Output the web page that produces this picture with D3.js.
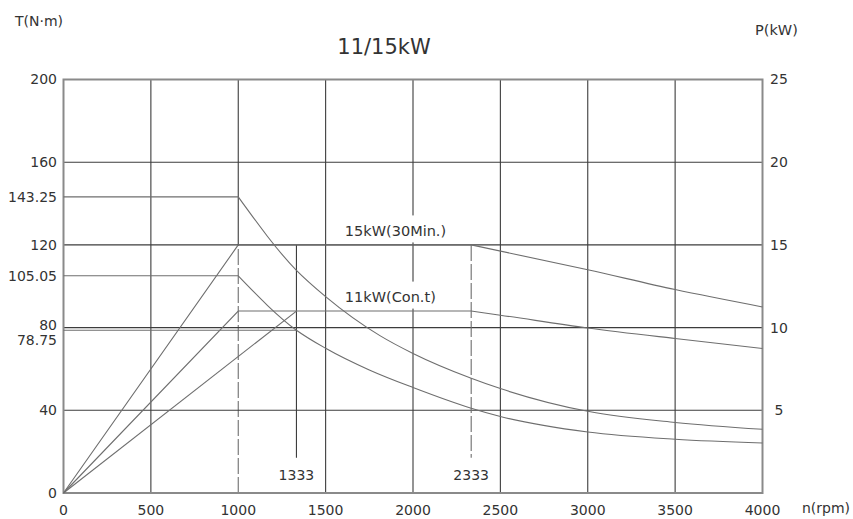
<!DOCTYPE html>
<html>
<head>
<meta charset="utf-8">
<script src="https://cdn.jsdelivr.net/npm/d3@7"></script>
<style>
  body { margin: 0; background: #fff; }
  text { font-family: "DejaVu Sans", sans-serif; fill: #333; }
</style>
</head>
<body>
<svg id="chart" width="853" height="519"></svg>
<script>
// axis ticks
var speedTicks = [0, 500, 1000, 1500, 2000, 2500, 3000, 3500, 4000];
var torqueGrid = [0, 40, 80, 120, 160, 200];
var torqueLabels = [0, 40, 78.75, 80, 105.05, 120, 143.25, 160, 200];
var powerTicks = [5, 10, 15, 20, 25];

// torque curves [rpm, N·m]
var torque15 = [[0, 143.25], [1000, 143.25], [1333, 107.7], [1500, 95], [1813, 76],
  [2000, 67.5], [2333, 55.5], [2500, 50.5], [3000, 39.5], [3500, 34.1], [4000, 30.8]];
var torque11 = [[0, 105.05], [1000, 105.05], [1333, 78.75], [1500, 70], [1750, 59.5],
  [2000, 51], [2333, 41], [2500, 37], [3000, 29.5], [3500, 26], [4000, 24.2]];
var torqueBase = [[0, 78.75], [1333, 78.75]];

// power curves [rpm, kW]
var power15 = [[0, 0], [1000, 15], [2333, 15], [3000, 13.5], [3500, 12.3], [4000, 11.25]];
var power11 = [[0, 0], [1000, 11], [2333, 11], [2500, 10.75], [3000, 9.98], [3500, 9.34], [4000, 8.74]];
var power11b = [[0, 0], [1333, 11]];

// marker speeds
var markers = [
  {n: 1333, label: '1333', dashed: false},
  {n: 2333, label: '2333', dashed: true}
];
var curveLabels = [
  {text: '15kW(30Min.)', n: 1610, t: 127},
  {text: '11kW(Con.t)', n: 1610, t: 95}
];

var svg = d3.select('#chart');
var plotLeft = 63.5, plotRight = 762.5, plotTop = 79.5, plotBottom = 493;

var x = d3.scaleLinear().domain([0, 4000]).range([plotLeft, plotRight]);
var yT = d3.scaleLinear().domain([0, 200]).range([plotBottom, plotTop]);
var yP = d3.scaleLinear().domain([0, 25]).range([plotBottom, plotTop]);

var gridColor = '#3c3c3c';
var curveColor = '#6e6e6e';

// grid: vertical lines (1000 is dashed below 120 N·m)
svg.append('g').selectAll('line')
  .data(speedTicks.filter(function(d) { return d > 0 && d < 4000; }))
  .enter().append('line')
  .attr('x1', function(d) { return x(d); })
  .attr('x2', function(d) { return x(d); })
  .attr('y1', function(d) { return d === 1000 ? yT(120) : yT(0); })
  .attr('y2', yT(200))
  .attr('stroke', gridColor)
  .attr('stroke-width', 1.1);

svg.append('line')
  .attr('x1', x(1000)).attr('x2', x(1000))
  .attr('y1', yT(0)).attr('y2', yT(120))
  .attr('stroke', curveColor)
  .attr('stroke-width', 1.1)
  .attr('stroke-dasharray', '16,3');

// grid: horizontal lines
svg.append('g').selectAll('line')
  .data(torqueGrid.filter(function(d) { return d > 0 && d < 200; }))
  .enter().append('line')
  .attr('x1', plotLeft).attr('x2', plotRight)
  .attr('y1', function(d) { return yT(d); })
  .attr('y2', function(d) { return yT(d); })
  .attr('stroke', gridColor)
  .attr('stroke-width', 1.1);

// white backing behind curve labels (cuts the 2000 gridline)
svg.append('g').selectAll('rect')
  .data(curveLabels)
  .enter().append('rect')
  .attr('x', function(d) { return x(d.n) - 3; })
  .attr('y', function(d) { return yT(d.t) - 15; })
  .attr('width', 110)
  .attr('height', 27)
  .attr('fill', '#fff');

// frame
svg.append('rect')
  .attr('x', plotLeft).attr('y', plotTop)
  .attr('width', plotRight - plotLeft).attr('height', plotBottom - plotTop)
  .attr('fill', 'none')
  .attr('stroke', '#8a8a8a')
  .attr('stroke-width', 2);

// marker verticals
svg.append('g').selectAll('line')
  .data(markers)
  .enter().append('line')
  .attr('x1', function(d) { return x(d.n); })
  .attr('x2', function(d) { return x(d.n); })
  .attr('y1', yT(120))
  .attr('y2', yT(17))
  .attr('stroke', function(d) { return d.dashed ? curveColor : gridColor; })
  .attr('stroke-width', 1.1)
  .attr('stroke-dasharray', function(d) { return d.dashed ? '16,3' : null; });

svg.append('g').selectAll('text')
  .data(markers)
  .enter().append('text')
  .attr('x', function(d) { return x(d.n); })
  .attr('y', 475)
  .attr('dy', '0.35em')
  .attr('text-anchor', 'middle')
  .style('font-size', '14px')
  .text(function(d) { return d.label; });

// curves
var lineT = d3.line().x(function(d) { return x(d[0]); }).y(function(d) { return yT(d[1]); });
var lineP = d3.line().x(function(d) { return x(d[0]); }).y(function(d) { return yP(d[1]); });
var smoothT = d3.line().curve(d3.curveMonotoneX)
  .x(function(d) { return x(d[0]); }).y(function(d) { return yT(d[1]); });
var smoothP = d3.line().curve(d3.curveMonotoneX)
  .x(function(d) { return x(d[0]); }).y(function(d) { return yP(d[1]); });

function drawPath(d) {
  svg.append('path')
    .attr('d', d)
    .attr('fill', 'none')
    .attr('stroke', curveColor)
    .attr('stroke-width', 1.1);
}

[torque15, torque11].forEach(function(c) {
  drawPath(lineT(c.slice(0, 2)));
  drawPath(smoothT(c.slice(1)));
});
drawPath(lineT(torqueBase));

[power15, power11].forEach(function(c) {
  drawPath(lineP(c.slice(0, 3)));
  drawPath(smoothP(c.slice(2)));
});
drawPath(lineP(power11b));

// curve labels
svg.append('g').selectAll('text')
  .data(curveLabels)
  .enter().append('text')
  .attr('x', function(d) { return x(d.n); })
  .attr('y', function(d) { return yT(d.t); })
  .attr('dy', '0.35em')
  .style('font-size', '14.5px')
  .text(function(d) { return d.text; });

// left axis labels (80 and 78.75 pushed apart)
svg.append('g').selectAll('text')
  .data(torqueLabels)
  .enter().append('text')
  .attr('x', 57)
  .attr('y', function(d) {
    var off = d === 80 ? -3 : d === 78.75 ? 10 : 0;
    return yT(d) + off;
  })
  .attr('dy', '0.35em')
  .attr('text-anchor', 'end')
  .style('font-size', '14px')
  .text(function(d) { return d3.format('.2~f')(d); });

// right axis labels
svg.append('g').selectAll('text')
  .data(powerTicks)
  .enter().append('text')
  .attr('x', 779)
  .attr('y', function(d) { return yP(d); })
  .attr('dy', '0.35em')
  .attr('text-anchor', 'middle')
  .style('font-size', '14px')
  .text(function(d) { return d; });

// bottom axis labels
svg.append('g').selectAll('text')
  .data(speedTicks)
  .enter().append('text')
  .attr('x', function(d) { return x(d); })
  .attr('y', 510)
  .attr('dy', '0.35em')
  .attr('text-anchor', 'middle')
  .style('font-size', '14px')
  .text(function(d) { return d; });

// titles
svg.append('text').attr('x', 384).attr('y', 47).attr('dy', '0.35em')
  .attr('text-anchor', 'middle').style('font-size', '21px').text('11/15kW');
svg.append('text').attr('x', 15).attr('y', 21).attr('dy', '0.35em')
  .style('font-size', '14px').text('T(N·m)');
svg.append('text').attr('x', 755).attr('y', 30).attr('dy', '0.35em')
  .style('font-size', '14.5px').text('P(kW)');
svg.append('text').attr('x', 802).attr('y', 508).attr('dy', '0.35em')
  .style('font-size', '14px').text('n(rpm)');
</script>
</body>
</html>
